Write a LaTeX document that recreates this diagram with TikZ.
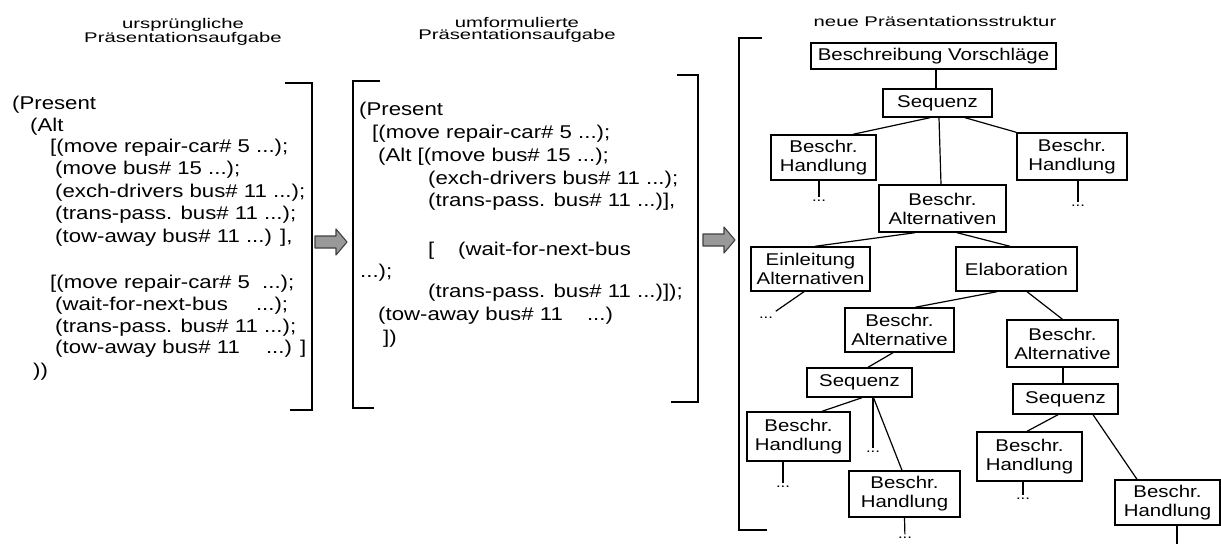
\documentclass[tikz,border=0pt]{standalone}
\usepackage{fontspec}
\setmainfont[FakeStretch=1.2]{Liberation Sans}
\newfontfamily\headfam[FakeStretch=1.45]{Liberation Sans}
\newcommand\codefont{\fontsize{18.5}{22}\selectfont}
\newcommand\treefont{\fontsize{17}{19}\selectfont}
\newcommand\headfont{\headfam\fontsize{14}{12.5}\selectfont}
\newcommand\dotfont{\fontsize{14}{14}\selectfont}
\begin{document}
\begin{tikzpicture}[x=1pt,y=-1pt,
  code/.style={anchor=base west, inner sep=0pt, font=\codefont},
  head/.style={align=center, inner sep=0pt, font=\headfont},
  tbox/.style={draw, line width=1.4pt, inner sep=0pt, align=center, font=\treefont},
  conn/.style={line width=1.2pt},
  dotsn/.style={inner sep=0pt, outer sep=3pt, font=\dotfont},
  brk/.style={line width=1.6pt},
  blockarrow/.pic={\draw[line width=1.1pt, draw=black!75, fill=black!40, line join=round]
     (0,-6) -- (21,-6) -- (21,-13) -- (32,0) -- (21,13) -- (21,6) -- (0,6) -- cycle;}
]
\useasboundingbox (0,0) rectangle (1221,544);

% headers
\node[head] (h1) at (183,32) {ursprüngliche\\Präsentationsaufgabe};
\node[head] (h2) at (517,30) {umformulierte\\Präsentationsaufgabe};
\node[head] (h3) at (935,21) {neue Präsentationsstruktur};

% left column
\node[code] (l1)  at (12,109) {(Present};
\node[code] (l2)  at (30,131) {(Alt};
\node[code] (l3)  at (50,152) {[(move repair-car\# 5 ...);};
\node[code] (l4)  at (55,174) {(move bus\# 15 ...);};
\node[code] (l5)  at (55,197) {(exch-drivers bus\# 11 ...);};
\node[code] (l6)  at (55,219) {(trans-pass. bus\# 11 ...);};
\node[code] (l7)  at (55,242) {(tow-away bus\# 11 ...) ],};
\node[code] (l8)  at (50,288) {[(move repair-car\# 5 \hspace{6pt}...);};
\node[code] (l9)  at (55,310) {(wait-for-next-bus \hspace{22pt}...);};
\node[code] (l10) at (55,332) {(trans-pass. bus\# 11 ...);};
\node[code] (l11) at (55,353) {(tow-away bus\# 11 \hspace{20pt}...) ]};
\node[code] (l12) at (33,376) {))};
\draw[brk] (285,83) -- (312,83) -- (312,410) -- (290,410);

\pic at (315,242) {blockarrow};

% middle column
\draw[brk] (380,81) -- (353,81) -- (353,408) -- (374,408);
\draw[brk] (677,75) -- (698,75) -- (698,402) -- (671,402);
\node[code] (m1)  at (359,115) {(Present};
\node[code] (m2)  at (372,138) {[(move repair-car\# 5 ...);};
\node[code] (m3)  at (378,161) {(Alt [(move bus\# 15 ...);};
\node[code] (m4)  at (428,184) {(exch-drivers bus\# 11 ...);};
\node[code] (m5)  at (428,206) {(trans-pass. bus\# 11 ...)],};
\node[code] (m6a) at (428,255) {[};
\node[code] (m6b) at (458,255) {(wait-for-next-bus};
\node[code] (m7)  at (360,277) {...);};
\node[code] (m8)  at (428,297) {(trans-pass. bus\# 11 ...)]);};
\node[code] (m9)  at (378,320) {(tow-away bus\# 11 \hspace{18pt}...)};
\node[code] (m10) at (383,343) {])};

\pic at (703,240) {blockarrow};

% right column
\draw[brk] (762,38) -- (739,38) -- (739,530) -- (767,530);

\node[tbox, minimum width=245, minimum height=26] (n1) at (933.5,56) {Beschreibung Vorschläge};
\node[tbox, minimum width=109, minimum height=28] (n2) at (937.5,103) {Sequenz};
\node[tbox, minimum width=105, minimum height=45] (n3) at (823.5,157.5) {Beschr.\\Handlung};
\node[tbox, minimum width=110, minimum height=47] (n4) at (1072,156.5) {Beschr.\\Handlung};
\node[tbox, minimum width=127, minimum height=47] (n5) at (942.5,208.5) {Beschr.\\Alternativen};
\node[tbox, minimum width=119, minimum height=44] (n6) at (810.5,269) {Einleitung\\Alternativen};
\node[tbox, minimum width=121, minimum height=44] (n7) at (1016.5,269) {Elaboration};
\node[tbox, minimum width=109, minimum height=44] (n8) at (899.5,330) {Beschr.\\Alternative};
\node[tbox, minimum width=111, minimum height=47] (n9) at (1062.5,343.5) {Beschr.\\Alternative};
\node[tbox, minimum width=105, minimum height=29] (n10) at (859.5,382.5) {Sequenz};
\node[tbox, minimum width=105, minimum height=30] (n11) at (1065.5,399) {Sequenz};
\node[tbox, minimum width=103, minimum height=49] (n12) at (798.5,436.5) {Beschr.\\Handlung};
\node[tbox, minimum width=111, minimum height=46] (n13) at (904.5,494) {Beschr.\\Handlung};
\node[tbox, minimum width=105, minimum height=49] (n14) at (1029.5,456.5) {Beschr.\\Handlung};
\node[tbox, minimum width=105, minimum height=45] (n15) at (1167.5,502.5) {Beschr.\\Handlung};

\node[dotsn] (d3)  at (819,201) {...};
\node[dotsn] (d4)  at (1078,206) {...};
\node[dotsn, outer sep=6pt] (d6)  at (766,318) {...};
\node[dotsn] (d10) at (873,452) {...};
\node[dotsn] (d12) at (783,487) {...};
\node[dotsn] (d13) at (905,538) {...};
\node[dotsn] (d14) at (1023,499) {...};
\coordinate (e15) at (1177,544);

\draw[conn] ([xshift=2.5pt]n1.south) -- ([xshift=-1.5pt]n2.north);
\draw[conn] ([xshift=-7.5pt]n2.south) -- ([xshift=29.5pt]n3.north);
\draw[conn] ([xshift=27.5pt]n2.south) -- (n4.north west);
\draw[conn] ([xshift=1.5pt]n2.south) -- ([xshift=-1.5pt]n5.north);
\draw[conn] ([xshift=-4.5pt]n3.south) -- (d3);
\draw[conn] ([xshift=6pt]n4.south) -- (d4);
\draw[conn] ([xshift=-27.5pt]n5.south) -- ([xshift=4.5pt]n6.north);
\draw[conn] ([xshift=14.5pt]n5.south) -- ([xshift=-6.5pt]n7.north);
\draw[conn] ([xshift=-6.5pt]n6.south) -- (d6);
\draw[conn] ([xshift=-19.5pt]n7.south) -- ([xshift=15.5pt]n8.north);
\draw[conn] ([xshift=10.5pt]n7.south) -- (n9.north);
\draw[conn] ([xshift=-6.5pt]n8.south) -- ([xshift=8.5pt]n10.north);
\draw[conn] ([xshift=0.5pt]n9.south) -- ([xshift=-2.5pt]n11.north);
\draw[conn] ([xshift=2.5pt]n10.south) -- ([xshift=23.5pt]n12.north);
\draw[conn] ([xshift=13.5pt]n10.south) -- (d10);
\draw[conn] ([xshift=14pt]n10.south) -- ([xshift=-2.5pt]n13.north);
\draw[conn] ([xshift=-15.5pt]n12.south) -- (d12);
\draw[conn] (n13.south) -- (d13);
\draw[conn] ([xshift=-7.5pt]n11.south) -- ([xshift=-2.5pt]n14.north);
\draw[conn] ([xshift=27.5pt]n11.south) -- ([xshift=-30.5pt]n15.north);
\draw[conn] ([xshift=-6.5pt]n14.south) -- (d14);
\draw[conn] ([xshift=9.5pt]n15.south) -- (e15);
\end{tikzpicture}
\end{document}
